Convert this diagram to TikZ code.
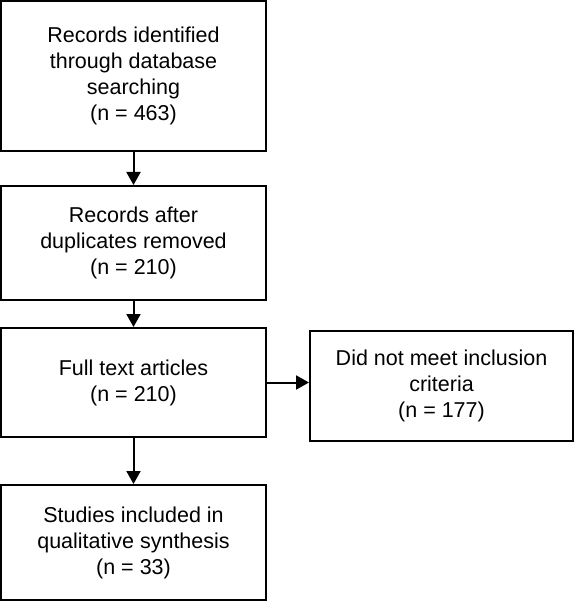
\documentclass[tikz,border=0pt]{standalone}
\usepackage{fontspec}
\setmainfont{Liberation Sans}
\usepackage{tikz}
\usetikzlibrary{arrows.meta}

\tikzset{
	flowbox/.style={draw, line width=2, align=center, font=\fontsize{21.5}{26}\selectfont, inner sep=0},
	flowarrow/.style={-{Triangle[length=13, width=14]}, line width=2}
}

\begin{document}
\begin{tikzpicture}[x=1pt, y=-1pt]

\useasboundingbox (0,0) rectangle (575,601);

\node[flowbox, minimum width=265, minimum height=150] (ident) at (133.5,76) {Records identified\\through database\\searching\\(n = 463)};
\node[flowbox, minimum width=265, minimum height=114] (dupl) at (133.5,243) {Records after\\duplicates removed\\(n = 210)};
\node[flowbox, minimum width=265, minimum height=109] (full) at (133.5,382.5) {Full text articles\\(n = 210)};
\node[flowbox, minimum width=265, minimum height=115] (incl) at (133.5,542.5) {Studies included in\\qualitative synthesis\\(n = 33)};

\node[flowbox, minimum width=263, minimum height=110] (excl) at (441.5,386) {Did not meet inclusion\\criteria\\(n = 177)};


\draw[flowarrow] (ident.south) -- (dupl.north);
\draw[flowarrow] (dupl.south) -- (full.north);
\draw[flowarrow] (full.south) -- (incl.north);

\draw[flowarrow] (full.east) -- (full.east -| excl.west);

\end{tikzpicture}
\end{document}
